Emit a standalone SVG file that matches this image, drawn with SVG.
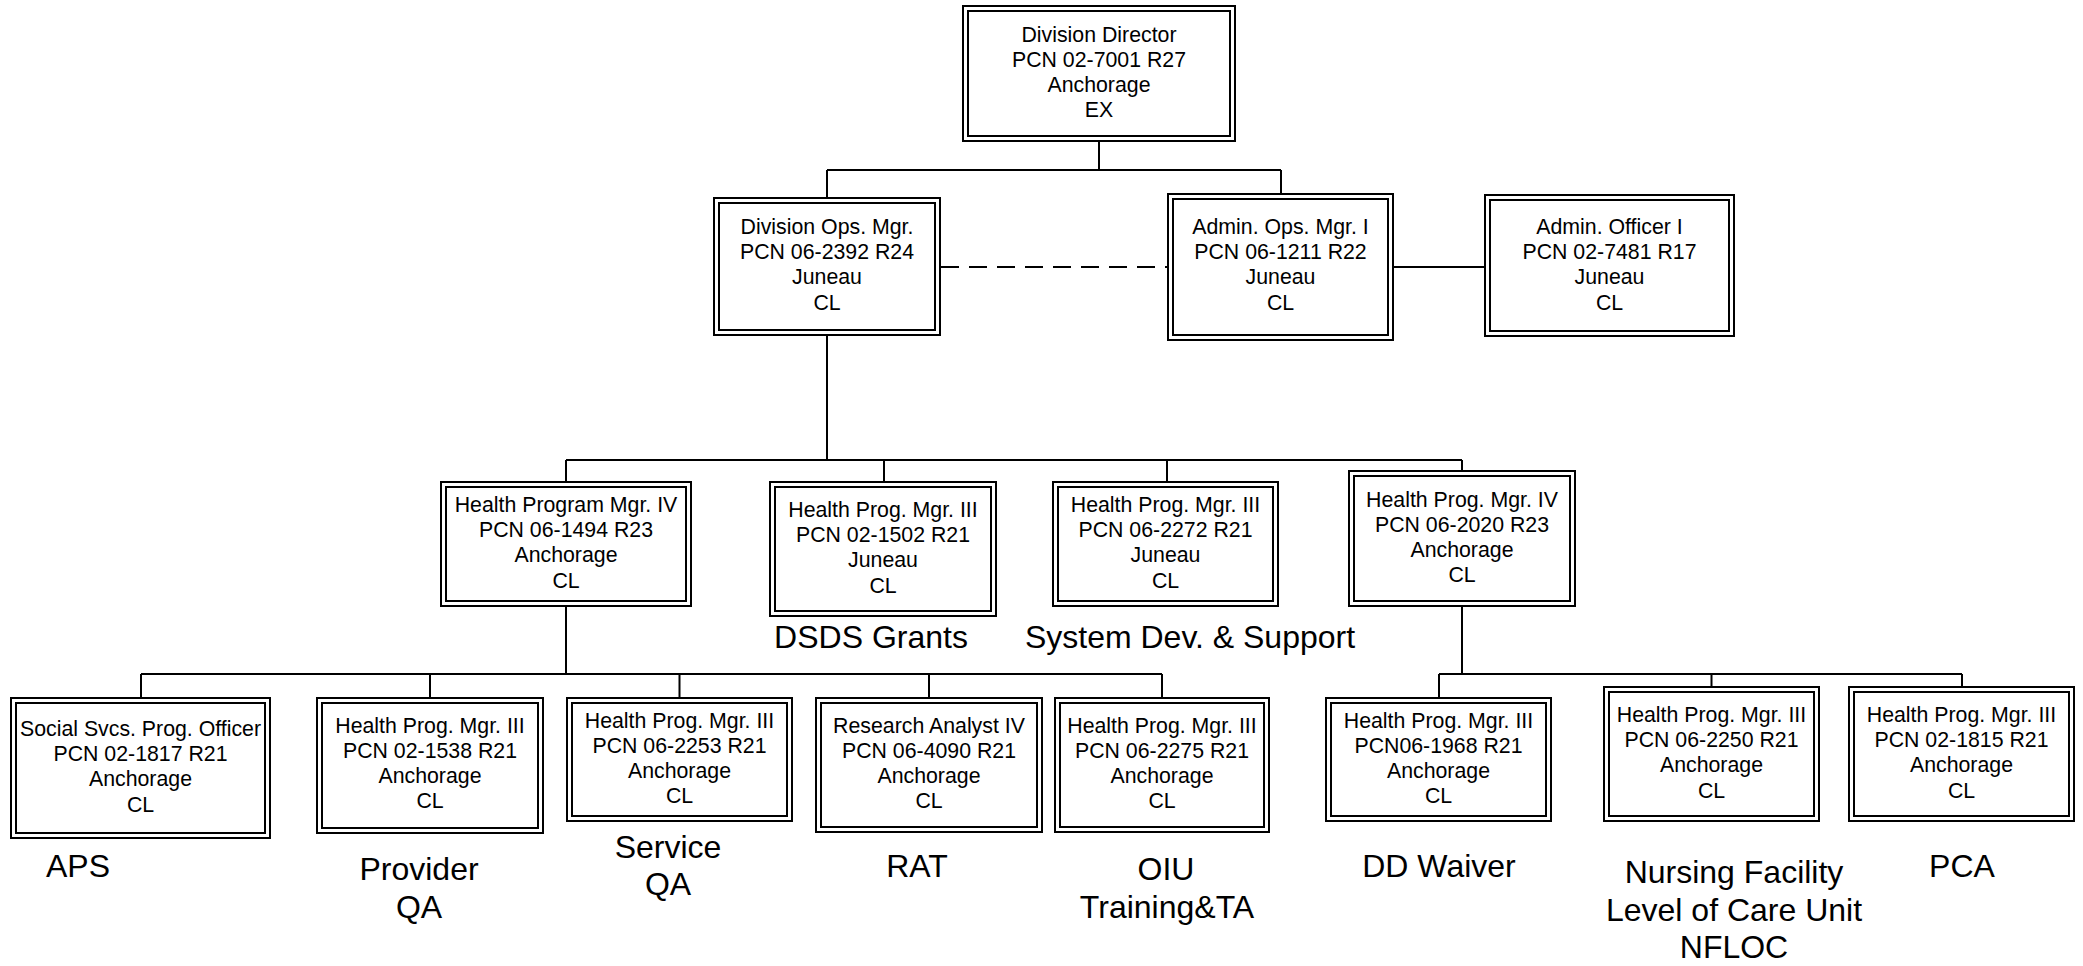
<svg xmlns="http://www.w3.org/2000/svg" width="2083" height="966" viewBox="0 0 2083 966">
<style>
  .bg { fill: #ffffff; }
  .o { fill: #ffffff; stroke: #000000; stroke-width: 2; }
  .i { fill: none; stroke: #000000; stroke-width: 2; }
  .t { font-family: "Liberation Sans", Arial, sans-serif; font-size: 21.3px; fill: #000000; text-anchor: middle; }
  .lbl { font-family: "Liberation Sans", Arial, sans-serif; font-size: 32px; fill: #000000; text-anchor: middle; }
  .c { fill: none; stroke: #000000; stroke-width: 2; }
  .d { fill: none; stroke: #000000; stroke-width: 2; stroke-dasharray: 18 10; }
</style>
<rect class="bg" x="0" y="0" width="2083" height="966"/>

<g id="connectors">
  <path class="c" d="M1099 142 V170 M827 170 H1281 M827 170 V197 M1281 170 V193"/>
  <path class="d" d="M941 267 H1167"/>
  <path class="c" d="M1394 267 H1484"/>
  <path class="c" d="M827 336 V460 M566 460 H1462 M566 460 V481 M884 460 V481 M1167 460 V481 M1462 460 V470"/>
  <path class="c" d="M566 607 V674 M141 674 H1162 M141 674 V697 M430 674 V697 M679.5 674 V697 M929 674 V697 M1162 674 V697"/>
  <path class="c" d="M1462 607 V674 M1439 674 H1962 M1439 674 V697 M1711.5 674 V686 M1962 674 V686"/>
</g>

<g id="n-director">
  <rect class="o" x="963" y="6" width="272" height="135"/>
  <rect class="i" x="968" y="11" width="262" height="125"/>
  <text class="t" x="1099" y="41.5">Division Director</text>
  <text class="t" x="1099" y="66.8">PCN 02-7001 R27</text>
  <text class="t" x="1099" y="92">Anchorage</text>
  <text class="t" x="1099" y="117.3">EX</text>
</g>

<g id="n-divops">
  <rect class="o" x="714" y="198" width="226" height="137"/>
  <rect class="i" x="719" y="203" width="216" height="127"/>
  <text class="t" x="827" y="234">Division Ops. Mgr.</text>
  <text class="t" x="827" y="259.2">PCN 06-2392 R24</text>
  <text class="t" x="827" y="284.4">Juneau</text>
  <text class="t" x="827" y="309.6">CL</text>
</g>

<g id="n-adminops">
  <rect class="o" x="1168" y="194" width="225" height="146"/>
  <rect class="i" x="1173" y="199" width="215" height="136"/>
  <text class="t" x="1280.5" y="234">Admin. Ops. Mgr. I</text>
  <text class="t" x="1280.5" y="259.2">PCN 06-1211 R22</text>
  <text class="t" x="1280.5" y="284.4">Juneau</text>
  <text class="t" x="1280.5" y="309.6">CL</text>
</g>

<g id="n-adminofficer">
  <rect class="o" x="1485" y="195" width="249" height="141"/>
  <rect class="i" x="1490" y="200" width="239" height="131"/>
  <text class="t" x="1609.5" y="234">Admin. Officer I</text>
  <text class="t" x="1609.5" y="259.2">PCN 02-7481 R17</text>
  <text class="t" x="1609.5" y="284.4">Juneau</text>
  <text class="t" x="1609.5" y="309.6">CL</text>
</g>

<g id="n-hpm4-1494">
  <rect class="o" x="441" y="482" width="250" height="124"/>
  <rect class="i" x="446" y="487" width="240" height="114"/>
  <text class="t" x="566" y="512">Health Program Mgr. IV</text>
  <text class="t" x="566" y="537.2">PCN 06-1494 R23</text>
  <text class="t" x="566" y="562.4">Anchorage</text>
  <text class="t" x="566" y="587.6">CL</text>
</g>

<g id="n-hpm3-1502">
  <rect class="o" x="770" y="482" width="226" height="134"/>
  <rect class="i" x="775" y="487" width="216" height="124"/>
  <text class="t" x="883" y="517">Health Prog. Mgr. III</text>
  <text class="t" x="883" y="542.2">PCN 02-1502 R21</text>
  <text class="t" x="883" y="567.4">Juneau</text>
  <text class="t" x="883" y="592.6">CL</text>
  <text class="lbl" x="871" y="648">DSDS Grants</text>
</g>

<g id="n-hpm3-2272">
  <rect class="o" x="1053" y="482" width="225" height="124"/>
  <rect class="i" x="1058" y="487" width="215" height="114"/>
  <text class="t" x="1165.5" y="512">Health Prog. Mgr. III</text>
  <text class="t" x="1165.5" y="537.2">PCN 06-2272 R21</text>
  <text class="t" x="1165.5" y="562.4">Juneau</text>
  <text class="t" x="1165.5" y="587.6">CL</text>
  <text class="lbl" x="1190" y="648">System Dev. &amp; Support</text>
</g>

<g id="n-hpm4-2020">
  <rect class="o" x="1349" y="471" width="226" height="135"/>
  <rect class="i" x="1354" y="476" width="216" height="125"/>
  <text class="t" x="1462" y="506.5">Health Prog. Mgr. IV</text>
  <text class="t" x="1462" y="531.7">PCN 06-2020 R23</text>
  <text class="t" x="1462" y="556.9">Anchorage</text>
  <text class="t" x="1462" y="582.1">CL</text>
</g>

<g id="n-aps">
  <rect class="o" x="11" y="698" width="259" height="140"/>
  <rect class="i" x="16" y="703" width="249" height="130"/>
  <text class="t" x="140.5" y="736">Social Svcs. Prog. Officer</text>
  <text class="t" x="140.5" y="761.2">PCN 02-1817 R21</text>
  <text class="t" x="140.5" y="786.4">Anchorage</text>
  <text class="t" x="140.5" y="811.6">CL</text>
  <text class="lbl" x="78" y="877">APS</text>
</g>

<g id="n-provider-qa">
  <rect class="o" x="317" y="698" width="226" height="135"/>
  <rect class="i" x="322" y="703" width="216" height="125"/>
  <text class="t" x="430" y="732.5">Health Prog. Mgr. III</text>
  <text class="t" x="430" y="757.7">PCN 02-1538 R21</text>
  <text class="t" x="430" y="782.9">Anchorage</text>
  <text class="t" x="430" y="808.1">CL</text>
  <text class="lbl" x="419" y="880">Provider</text>
  <text class="lbl" x="419" y="918">QA</text>
</g>

<g id="n-service-qa">
  <rect class="o" x="567" y="698" width="225" height="123"/>
  <rect class="i" x="572" y="703" width="215" height="113"/>
  <text class="t" x="679.5" y="727.5">Health Prog. Mgr. III</text>
  <text class="t" x="679.5" y="752.7">PCN 06-2253 R21</text>
  <text class="t" x="679.5" y="777.9">Anchorage</text>
  <text class="t" x="679.5" y="803.1">CL</text>
  <text class="lbl" x="668" y="858">Service</text>
  <text class="lbl" x="668" y="895">QA</text>
</g>

<g id="n-rat">
  <rect class="o" x="816" y="698" width="226" height="134"/>
  <rect class="i" x="821" y="703" width="216" height="124"/>
  <text class="t" x="929" y="732.5">Research Analyst IV</text>
  <text class="t" x="929" y="757.7">PCN 06-4090 R21</text>
  <text class="t" x="929" y="782.9">Anchorage</text>
  <text class="t" x="929" y="808.1">CL</text>
  <text class="lbl" x="917" y="877">RAT</text>
</g>

<g id="n-oiu">
  <rect class="o" x="1055" y="698" width="214" height="134"/>
  <rect class="i" x="1060" y="703" width="204" height="124"/>
  <text class="t" x="1162" y="732.5">Health Prog. Mgr. III</text>
  <text class="t" x="1162" y="757.7">PCN 06-2275 R21</text>
  <text class="t" x="1162" y="782.9">Anchorage</text>
  <text class="t" x="1162" y="808.1">CL</text>
  <text class="lbl" x="1166" y="880">OIU</text>
  <text class="lbl" x="1167" y="918">Training&amp;TA</text>
</g>

<g id="n-dd-waiver">
  <rect class="o" x="1326" y="698" width="225" height="123"/>
  <rect class="i" x="1331" y="703" width="215" height="113"/>
  <text class="t" x="1438.5" y="727.5">Health Prog. Mgr. III</text>
  <text class="t" x="1438.5" y="752.7">PCN06-1968 R21</text>
  <text class="t" x="1438.5" y="777.9">Anchorage</text>
  <text class="t" x="1438.5" y="803.1">CL</text>
  <text class="lbl" x="1439" y="877">DD Waiver</text>
</g>

<g id="n-nfloc">
  <rect class="o" x="1604" y="687" width="215" height="134"/>
  <rect class="i" x="1609" y="692" width="205" height="124"/>
  <text class="t" x="1711.5" y="722">Health Prog. Mgr. III</text>
  <text class="t" x="1711.5" y="747.2">PCN 06-2250 R21</text>
  <text class="t" x="1711.5" y="772.4">Anchorage</text>
  <text class="t" x="1711.5" y="797.6">CL</text>
  <text class="lbl" x="1734" y="883">Nursing Facility</text>
  <text class="lbl" x="1734" y="921">Level of Care Unit</text>
  <text class="lbl" x="1734" y="958">NFLOC</text>
</g>

<g id="n-pca">
  <rect class="o" x="1849" y="687" width="225" height="134"/>
  <rect class="i" x="1854" y="692" width="215" height="124"/>
  <text class="t" x="1961.5" y="722">Health Prog. Mgr. III</text>
  <text class="t" x="1961.5" y="747.2">PCN 02-1815 R21</text>
  <text class="t" x="1961.5" y="772.4">Anchorage</text>
  <text class="t" x="1961.5" y="797.6">CL</text>
  <text class="lbl" x="1962" y="877">PCA</text>
</g>
</svg>
